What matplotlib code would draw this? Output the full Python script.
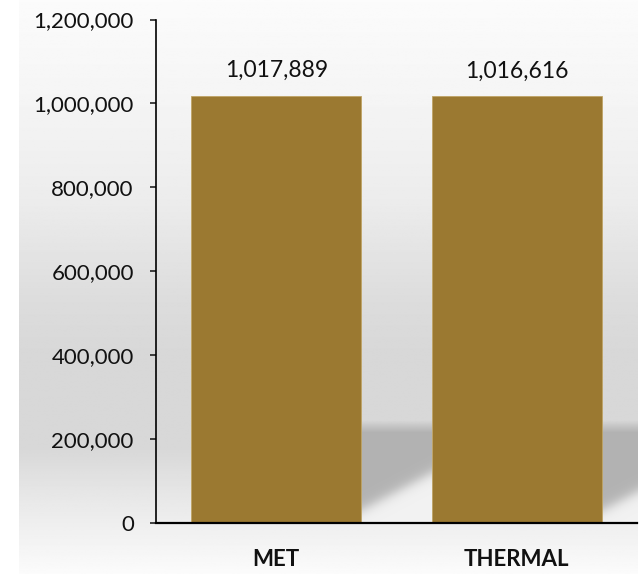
import numpy as np
import matplotlib
matplotlib.use('Agg')
import matplotlib.pyplot as plt
from matplotlib.ticker import FuncFormatter
import matplotlib.transforms as mtransforms

categories = ['MET', 'THERMAL']
values = [1017889, 1016616]
y_ticks = [0, 200000, 400000, 600000, 800000, 1000000, 1200000]

bar_color = '#9b7931'
bar_width = 0.707

plt.rcParams['font.family'] = ['Lato', 'DejaVu Sans']

fig = plt.figure(figsize=(6.4, 5.74), dpi=100)

# background gradient behind the chart area
bg_ax = fig.add_axes([19 / 640, 0, 619 / 640, 1])
bg_ax.set_axis_off()
stops_y = [0.0, 0.17, 0.35, 0.52, 0.62, 0.78, 0.87, 1.0]
stops_c = [0.985, 0.96, 0.925, 0.865, 0.845, 0.845, 0.91, 0.985]
yy = np.linspace(0, 1, 400)
grad = np.interp(yy, stops_y, stops_c)
img = np.repeat(grad[:, None], 2, axis=1)
bg_ax.imshow(img, cmap='gray', vmin=0, vmax=1, aspect='auto', extent=[0, 1, 1, 0])
bg_ax.set_xlim(0, 1)
bg_ax.set_ylim(1, 0)

ax = fig.add_axes([156 / 640, 51.3 / 574, 481 / 640, 503.2 / 574])
ax.set_facecolor('none')

x = np.arange(len(categories))

# soft shadow to the right of each bar
gap = 1 - bar_width
for xi in x:
    left = xi + bar_width / 2
    uu = np.linspace(0, 1, 120)
    vv = np.linspace(0, 250000, 300)
    U, V = np.meshgrid(uu, vv)
    diag = 30000 + 89000 * U
    light = 1 / (1 + np.exp(-(diag - V) / 9000))
    c = 0.70 + (0.95 - 0.70) * light
    a = np.clip((245000 - V) / 29000, 0, 1)
    rgba = np.dstack([c, c, c, a])
    ax.imshow(rgba, origin='lower', aspect='auto',
              extent=[left, left + gap, 0, 250000], zorder=1, interpolation='bilinear')

bars = ax.bar(x, values, width=bar_width, color=bar_color,
              edgecolor='#bfa465', linewidth=0.6, zorder=2)

for xi, v in zip(x, values):
    off = mtransforms.offset_copy(ax.transData, fig=fig, x=0, y=19, units='dots')
    ax.text(xi, v, f'{v:,}', transform=off, ha='center', va='baseline',
            fontsize=16.5, color='#111111')

ax.set_xlim(-0.5, 1.5)
ax.set_ylim(0, 1200000)
ax.set_yticks(y_ticks)
ax.yaxis.set_major_formatter(FuncFormatter(lambda v, p: f'{int(v):,}'))
ax.set_xticks(x)
ax.set_xticklabels(categories, fontsize=16, fontweight='bold')

ax.tick_params(axis='y', direction='out', length=4, width=1.1, pad=12,
               labelsize=16, colors='#111111')
ax.tick_params(axis='x', length=0, pad=19, colors='#111111')

for s in ['top', 'right']:
    ax.spines[s].set_visible(False)
ax.spines['left'].set_linewidth(1.2)
ax.spines['bottom'].set_linewidth(1.6)
ax.spines['left'].set_zorder(3)
ax.spines['bottom'].set_zorder(3)

fig.savefig('out.png', dpi=100)
